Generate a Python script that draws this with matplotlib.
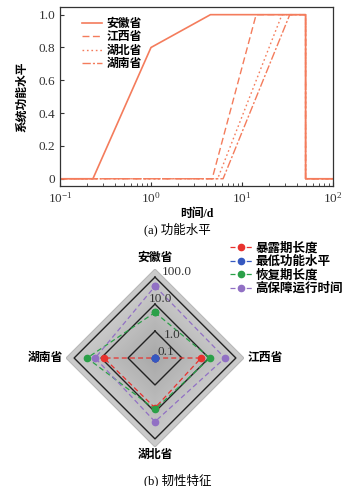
import numpy as np
import matplotlib
matplotlib.use("Agg")
import matplotlib.pyplot as plt
from matplotlib.lines import Line2D

plt.rcParams['font.family'] = ['Liberation Serif', 'Noto Sans CJK SC', 'DejaVu Sans']
plt.rcParams['mathtext.fontset'] = 'stix'

# ---- (a) function level curves ----
provinces = ['安徽省', '江西省', '湖北省', '湖南省']
t_anhui = [0.1, 0.23, 1.0, 4.5, 50, 50, 100]
f_anhui = [0, 0, 0.8, 1.0, 1.0, 0, 0]
t_jiangxi = [0.1, 4.7, 14.3, 50, 50, 100]
f_jiangxi = [0, 0, 1.0, 1.0, 0, 0]
t_hubei = [0.1, 5.4, 27.5, 50, 50, 100]
f_hubei = [0, 0, 1.0, 1.0, 0, 0]
t_hunan = [0.1, 6.2, 33.5, 50, 50, 100]
f_hunan = [0, 0, 1.0, 1.0, 0, 0]

# ---- (b) resilience features (order: 安徽, 江西, 湖北, 湖南) ----
feature_names = ['暴露期长度', '最低功能水平', '恢复期长度', '高保障运行时间']
exposure = [0.1, 5.1, 7.1, 7.8]
min_level = [0, 0, 0, 0]
recovery = [4.9, 10.9, 8.0, 33.0]
high_time = [46.0, 39.0, 23.0, 16.5]
ring_values = [0.1, 1.0, 10.0, 100.0]
ring_labels = ['0.1', '1.0', '10.0', '100.0']

line_col = '#f47c5c'

fig = plt.figure(figsize=(3.55, 4.86), dpi=100)

ax = fig.add_axes([0.169, 0.617, 0.769, 0.368])
ax.plot(t_jiangxi, f_jiangxi, color=line_col, lw=1.0, ls=(0, (5, 2.5)))
ax.plot(t_hubei, f_hubei, color=line_col, lw=1.0, ls=(0, (1.2, 2)))
ax.plot(t_hunan, f_hunan, color=line_col, lw=1.0, ls=(0, (6, 1.5, 1.5, 1.5)))
ax.plot(t_anhui, f_anhui, color=line_col, lw=1.2)
ax.set_xscale('log')
ax.set_xlim(0.1, 100)
ax.set_ylim(-0.045, 1.045)
ax.set_yticks([0, 0.2, 0.4, 0.6, 0.8, 1.0])
ax.set_yticklabels(['0', '0.2', '0.4', '0.6', '0.8', '1.0'])
ax.tick_params(direction='in', which='both', labelsize=9.5, colors='#333333', length=3)
ax.tick_params(which='minor', length=2)
for s in ax.spines.values():
    s.set_color('#333333')
    s.set_linewidth(0.9)
ax.set_xlabel('时间/d', fontsize=8.5, fontweight='bold', labelpad=2)
ax.set_ylabel('系统功能水平', fontsize=8.5, fontweight='bold', labelpad=7)
handles = [Line2D([], [], color=line_col, lw=1.2),
           Line2D([], [], color=line_col, lw=1.0, ls=(0, (5, 2.5))),
           Line2D([], [], color=line_col, lw=1.0, ls=(0, (1.2, 2))),
           Line2D([], [], color=line_col, lw=1.0, ls=(0, (6, 1.5, 1.5, 1.5)))]
ax.legend(handles, provinces, loc='upper left', frameon=False,
          handlelength=1.7, handletextpad=0.4, labelspacing=0.12,
          bbox_to_anchor=(0.04, 1.0), prop={'weight': 'bold', 'size': 8.5})
fig.text(0.5, 0.527, '(a) 功能水平', ha='center', va='center', fontsize=9)

# ---- radar ----
theta = np.array([0, np.pi / 2, np.pi, 3 * np.pi / 2])
theta_c = np.append(theta, theta[0])
rmax = 200

def closed(v):
    v = np.clip(np.asarray(v, dtype=float), 0.1, None)
    return np.append(v, v[0])

pax = fig.add_axes([0.1859, 0.0802, 0.5014, 0.3663], projection='polar')
pax.set_theta_offset(np.pi / 2)
pax.set_theta_direction(-1)
pax.set_rscale('log')
pax.set_rlim(0.1, rmax)
pax.grid(False)
pax.spines['polar'].set_visible(False)
pax.set_xticks([])
pax.set_yticks([])
pax.patch.set_alpha(0)

# gray gradient background
levels = np.logspace(np.log10(rmax), -1, 40)
shades = np.linspace(0.80, 0.66, len(levels))
for lv, sh in zip(levels, shades):
    pax.fill(theta_c, np.full(5, lv), color=str(sh), lw=0, zorder=1)
pax.plot(theta_c, np.full(5, rmax), color='#b8b8b8', lw=0.8, zorder=1)

for rv in ring_values[1:]:
    pax.plot(theta_c, np.full(5, rv), color='#222222', lw=1.0, zorder=2)

label_off = [(8, 4), (12, -3), (4, 4), (16, 4)]
for rv, lab, off in zip(ring_values, ring_labels, label_off):
    pax.annotate(lab, xy=(0, rv), xytext=off, textcoords='offset points',
                 ha='center', va='center', fontsize=9.5, color='#333333', zorder=6)

series = [exposure, min_level, recovery, high_time]
colors = ['#e8322e', '#3558c0', '#2aa048', '#9170c4']
for vals, col, name in zip(series, colors, feature_names):
    pax.plot(theta_c, closed(vals), color=col, lw=0.9, ls=(0, (4, 2.5)),
             marker='o', ms=4.5, mec=col, mfc=col, zorder=4, label=name)

pax.legend(loc='upper left', bbox_to_anchor=(0.615, 0.525), bbox_transform=fig.transFigure,
           frameon=False, handlelength=1.9, handletextpad=0.2,
           labelspacing=0.1, prop={'weight': 'bold', 'size': 9})

fig.text(155 / 355, 1 - 258 / 486, '安徽省', ha='center', va='center', fontsize=8.5, fontweight='bold')
fig.text(265 / 355, 1 - 358 / 486, '江西省', ha='center', va='center', fontsize=8.5, fontweight='bold')
fig.text(155 / 355, 1 - 455 / 486, '湖北省', ha='center', va='center', fontsize=8.5, fontweight='bold')
fig.text(45 / 355, 1 - 358 / 486, '湖南省', ha='center', va='center', fontsize=8.5, fontweight='bold')
fig.text(0.5, 1 - 480 / 486, '(b) 韧性特征', ha='center', va='center', fontsize=9)

fig.savefig('out.png', dpi=100)
